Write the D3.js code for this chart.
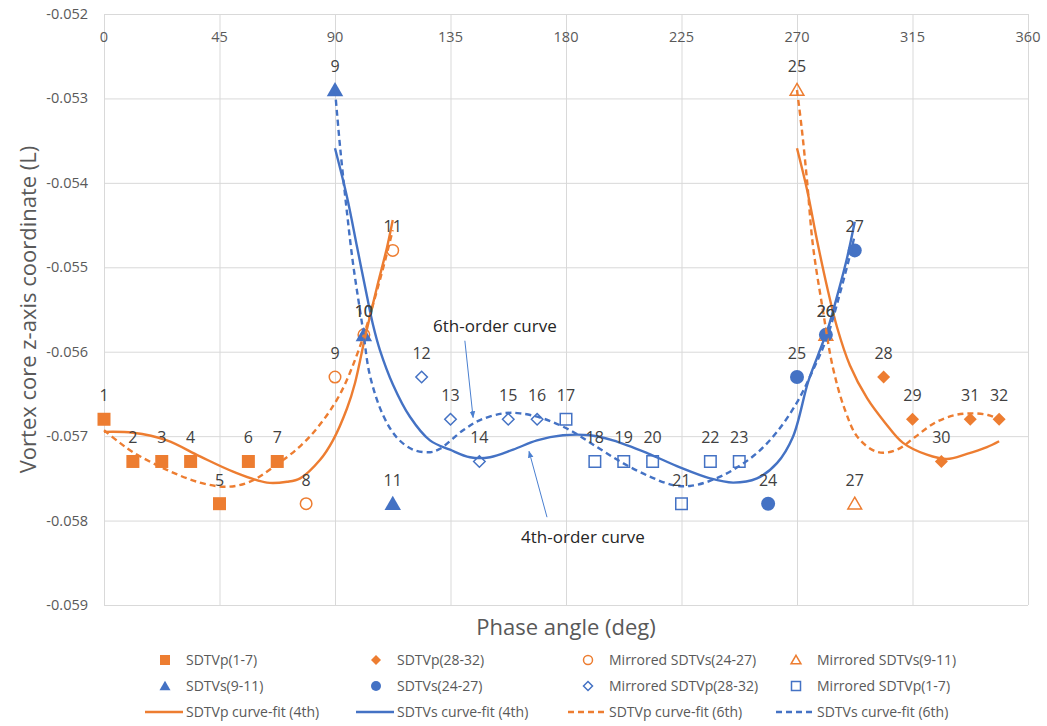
<!DOCTYPE html>
<html>
<head>
<meta charset="utf-8">
<script src="https://cdn.jsdelivr.net/npm/d3@7"></script>
<style>
  body { margin: 0; background: #fff; }
  text { font-family: "Open Sans", "Noto Sans", sans-serif; }
</style>
</head>
<body>
<svg id="chart" width="1047" height="726"></svg>
<script>
// ---- data ----
const xTicks = [0, 45, 90, 135, 180, 225, 270, 315, 360];
const yTicks = [-0.052, -0.053, -0.054, -0.055, -0.056, -0.057, -0.058, -0.059];

// marker series
const sdtvp17X = [0, 11.25, 22.5, 33.75, 45, 56.25, 67.5];
const sdtvp17Y = [-0.0568, -0.0573, -0.0573, -0.0573, -0.0578, -0.0573, -0.0573];
const sdtvp17Lbl = ["1", "2", "3", "4", "5", "6", "7"];

const sdtvp2832X = [303.75, 315, 326.25, 337.5, 348.75];
const sdtvp2832Y = [-0.0563, -0.0568, -0.0573, -0.0568, -0.0568];
const sdtvp2832Lbl = ["28", "29", "30", "31", "32"];

const mirS2427X = [78.75, 90, 101.25, 112.5];
const mirS2427Y = [-0.0578, -0.0563, -0.0558, -0.0548];
const mirS2427Lbl = ["8", "9", "10", "11"];

const mirS911X = [270, 281.25, 292.5];
const mirS911Y = [-0.0529, -0.0558, -0.0578];
const mirS911Lbl = ["25", "26", "27"];

const sdtvs911X = [90, 101.25, 112.5];
const sdtvs911Y = [-0.0529, -0.0558, -0.0578];
const sdtvs911Lbl = ["9", "10", "11"];

const sdtvs2427X = [258.75, 270, 281.25, 292.5];
const sdtvs2427Y = [-0.0578, -0.0563, -0.0558, -0.0548];
const sdtvs2427Lbl = ["24", "25", "26", "27"];

const mirP2832X = [123.75, 135, 146.25, 157.5, 168.75];
const mirP2832Y = [-0.0563, -0.0568, -0.0573, -0.0568, -0.0568];
const mirP2832Lbl = ["12", "13", "14", "15", "16"];

const mirP17X = [180, 191.25, 202.5, 213.75, 225, 236.25, 247.5];
const mirP17Y = [-0.0568, -0.0573, -0.0573, -0.0573, -0.0578, -0.0573, -0.0573];
const mirP17Lbl = ["17", "18", "19", "20", "21", "22", "23"];

// curve-fit lines (traced)
const pFit4aX = [0, 11.3, 24.5, 37.4, 50.3, 63.5, 71.3, 76.4, 84.2, 89.2, 94.7, 97.8, 101.7, 106.4, 110.3, 112.5];
const pFit4aY = [-0.05695, -0.05696, -0.05705, -0.05724, -0.05742, -0.05755, -0.05754, -0.05750, -0.05728, -0.05705, -0.05667, -0.05637, -0.05583, -0.05523, -0.05476, -0.05444];
const pFit4bX = [270, 273.9, 277.8, 281.7, 285.6, 290.6, 297.3, 304.3, 311.3, 320.6, 328.4, 336.2, 344.0, 348.75];
const pFit4bY = [-0.05359, -0.05408, -0.05468, -0.05523, -0.05571, -0.05616, -0.05655, -0.05684, -0.05708, -0.05722, -0.05727, -0.05721, -0.05713, -0.05706];

const pFit6aX = [0, 6.2, 11.3, 24.5, 37.4, 47.9, 56.9, 65.8, 76.4, 84.2, 92.0, 99.7, 107.5, 112.5];
const pFit6aY = [-0.05693, -0.05708, -0.05719, -0.05740, -0.05755, -0.05760, -0.05754, -0.05737, -0.05712, -0.05686, -0.05650, -0.05594, -0.05515, -0.05456];
const pFit6bX = [270, 271.9, 273.9, 276.2, 280.1, 284.0, 288.7, 293.8, 301.6, 309.0, 316.0, 323.8, 331.6, 338.2, 344.4, 348.75];
const pFit6bY = [-0.05290, -0.05337, -0.05397, -0.05474, -0.05551, -0.05619, -0.05669, -0.05702, -0.05719, -0.05716, -0.05701, -0.05684, -0.05675, -0.05673, -0.05675, -0.05680];

const sFit4X = [90, 94.7, 98.6, 102.5, 104.8, 107.5, 112.6, 119.2, 127.0, 134.8, 142.6, 150.4, 159.4, 168.7, 178.8, 189.4, 198.3, 211.6, 224.4, 236.1, 245.1, 254.4, 262.2, 268.4, 274.3, 278.2, 282.1, 286.0, 289.5, 292.5];
const sFit4Y = [-0.05359, -0.05417, -0.05476, -0.05535, -0.05568, -0.05598, -0.05639, -0.05677, -0.05705, -0.05716, -0.05725, -0.05725, -0.05716, -0.05705, -0.05699, -0.05699, -0.05705, -0.05720, -0.05737, -0.05750, -0.05755, -0.05750, -0.05732, -0.05701, -0.05636, -0.05604, -0.05572, -0.05530, -0.05489, -0.05446];

const sFit6X = [90, 92.0, 94.7, 97.0, 100.9, 103.6, 108.7, 114.2, 120.4, 127.0, 130.9, 139.9, 146.5, 155.5, 162.1, 171.0, 181.6, 192.1, 202.2, 212.7, 221.7, 228.3, 236.1, 245.1, 254.4, 262.2, 270.0, 276.2, 281.7, 286.8, 290.7, 292.5];
const sFit6Y = [-0.05290, -0.05358, -0.05436, -0.05495, -0.05574, -0.05628, -0.05675, -0.05702, -0.05716, -0.05719, -0.05715, -0.05693, -0.05681, -0.05673, -0.05673, -0.05679, -0.05693, -0.05713, -0.05732, -0.05748, -0.05758, -0.05759, -0.05753, -0.05740, -0.05720, -0.05695, -0.05660, -0.05622, -0.05583, -0.05530, -0.05485, -0.05462];

// ---- setup ----
const ORANGE = "#ED7D31", BLUE = "#4472C4";
const svg = d3.select("#chart");
const plot = { left: 104, right: 1028, top: 14, bottom: 605 };

const x = d3.scaleLinear().domain([0, 360]).range([plot.left, plot.right]);
const y = d3.scaleLinear().domain([-0.059, -0.052]).range([plot.bottom, plot.top]);

// gridlines
svg.append("g")
  .attr("transform", `translate(0,${plot.top})`)
  .call(d3.axisBottom(x).tickValues(xTicks).tickSize(plot.bottom - plot.top).tickFormat(""))
  .call(g => g.select(".domain").remove())
  .call(g => g.selectAll("line").attr("stroke", "#d9d9d9"));
svg.append("g")
  .attr("transform", `translate(${plot.left},0)`)
  .call(d3.axisRight(y).tickValues(yTicks).tickSize(plot.right - plot.left).tickFormat(""))
  .call(g => g.select(".domain").remove())
  .call(g => g.selectAll("line").attr("stroke", "#d9d9d9"));

// tick labels
svg.append("g")
  .selectAll("text").data(xTicks).join("text")
  .attr("x", d => x(d)).attr("y", 42)
  .attr("text-anchor", "middle")
  .attr("font-size", 14.5).attr("fill", "#595959")
  .text(d => d);
svg.append("g")
  .selectAll("text").data(yTicks).join("text")
  .attr("x", 88).attr("y", d => y(d) + 5)
  .attr("text-anchor", "end")
  .attr("font-size", 14.5).attr("fill", "#595959")
  .text(d => d.toFixed(3));

// axis titles
svg.append("text")
  .attr("transform", `translate(36,${(plot.top + plot.bottom) / 2}) rotate(-90)`)
  .attr("text-anchor", "middle")
  .attr("font-size", 22).attr("fill", "#595959")
  .text("Vortex core z-axis coordinate (L)");
svg.append("text")
  .attr("x", (plot.left + plot.right) / 2).attr("y", 635)
  .attr("text-anchor", "middle")
  .attr("font-size", 22).attr("fill", "#595959")
  .text("Phase angle (deg)");

// marker shapes
function markerPath(type, s) {
  const h = s / 2;
  if (type === "square") return `M${-h},${-h}H${h}V${h}H${-h}Z`;
  if (type === "diamond") return `M0,${-h}L${h},0L0,${h}L${-h},0Z`;
  if (type === "triangle") return `M0,${-h * 1.05}L${h * 1.1},${h * 0.85}L${-h * 1.1},${h * 0.85}Z`;
  return d3.arc()({ innerRadius: 0, outerRadius: h, startAngle: 0, endAngle: 2 * Math.PI });
}

const series = [
  { name: "SDTVp(1-7)", xs: sdtvp17X, ys: sdtvp17Y, lbl: sdtvp17Lbl, shape: "square", color: ORANGE, fill: true, size: 13 },
  { name: "SDTVp(28-32)", xs: sdtvp2832X, ys: sdtvp2832Y, lbl: sdtvp2832Lbl, shape: "diamond", color: ORANGE, fill: true, size: 13 },
  { name: "Mirrored SDTVs(24-27)", xs: mirS2427X, ys: mirS2427Y, lbl: mirS2427Lbl, shape: "circle", color: ORANGE, fill: false, size: 13 },
  { name: "Mirrored SDTVs(9-11)", xs: mirS911X, ys: mirS911Y, lbl: mirS911Lbl, shape: "triangle", color: ORANGE, fill: false, size: 14 },
  { name: "SDTVs(9-11)", xs: sdtvs911X, ys: sdtvs911Y, lbl: sdtvs911Lbl, shape: "triangle", color: BLUE, fill: true, size: 15 },
  { name: "SDTVs(24-27)", xs: sdtvs2427X, ys: sdtvs2427Y, lbl: sdtvs2427Lbl, shape: "circle", color: BLUE, fill: true, size: 14 },
  { name: "Mirrored SDTVp(28-32)", xs: mirP2832X, ys: mirP2832Y, lbl: mirP2832Lbl, shape: "diamond", color: BLUE, fill: false, size: 13 },
  { name: "Mirrored SDTVp(1-7)", xs: mirP17X, ys: mirP17Y, lbl: mirP17Lbl, shape: "square", color: BLUE, fill: false, size: 13 }
];

const fits = [
  { name: "SDTVp curve-fit (4th)", parts: [[pFit4aX, pFit4aY], [pFit4bX, pFit4bY]], color: ORANGE, dash: null },
  { name: "SDTVs curve-fit (4th)", parts: [[sFit4X, sFit4Y]], color: BLUE, dash: null },
  { name: "SDTVp curve-fit (6th)", parts: [[pFit6aX, pFit6aY], [pFit6bX, pFit6bY]], color: ORANGE, dash: "6,4" },
  { name: "SDTVs curve-fit (6th)", parts: [[sFit6X, sFit6Y]], color: BLUE, dash: "6,4" }
];

// markers
series.forEach(s => {
  const pts = s.xs.map((v, i) => [v, s.ys[i]]);
  svg.append("g").selectAll("path").data(pts).join("path")
    .attr("transform", d => `translate(${x(d[0])},${y(d[1])})`)
    .attr("d", markerPath(s.shape, s.fill ? s.size : s.size - 1.5))
    .attr("fill", s.fill ? s.color : "none")
    .attr("stroke", s.color)
    .attr("stroke-width", s.fill ? 0 : 1.5);
});

// curve fits
const line = d3.line().x(d => x(d[0])).y(d => y(d[1])).curve(d3.curveCatmullRom.alpha(0.5));
fits.forEach(f => {
  f.parts.forEach(([xs, ys]) => {
    svg.append("path")
      .datum(xs.map((v, i) => [v, ys[i]]))
      .attr("fill", "none")
      .attr("stroke", f.color)
      .attr("stroke-width", 2.4)
      .attr("stroke-dasharray", f.dash)
      .attr("d", line);
  });
});

// data labels
series.forEach(s => {
  svg.append("g").selectAll("text").data(s.xs).join("text")
    .attr("x", d => x(d))
    .attr("y", (d, i) => y(s.ys[i]) - 18)
    .attr("text-anchor", "middle")
    .attr("font-size", 16).attr("fill", "#404040")
    .text((d, i) => s.lbl[i]);
});

// annotations
svg.append("defs").append("marker")
  .attr("id", "arrow").attr("viewBox", "0 0 10 10")
  .attr("refX", 9).attr("refY", 5)
  .attr("markerWidth", 7).attr("markerHeight", 7)
  .attr("orient", "auto")
  .append("path").attr("d", "M0,1L10,5L0,9Z").attr("fill", "#4a7fd0");

const notes = [
  { text: "6th-order curve", tx: 152.3, ty: -0.05570, from: [140.6, -0.05587], to: [143.8, -0.05678] },
  { text: "4th-order curve", tx: 186.6, ty: -0.05819, from: [172.6, -0.05796], to: [165.6, -0.05718] }
];
notes.forEach(n => {
  svg.append("line")
    .attr("x1", x(n.from[0])).attr("y1", y(n.from[1]))
    .attr("x2", x(n.to[0])).attr("y2", y(n.to[1]))
    .attr("stroke", "#4a7fd0").attr("stroke-width", 1)
    .attr("marker-end", "url(#arrow)");
  svg.append("text")
    .attr("x", x(n.tx)).attr("y", y(n.ty) + 6)
    .attr("text-anchor", "middle")
    .attr("font-size", 17).attr("fill", "#262626")
    .text(n.text);
});

// legend
const colX = [165, 376, 588, 796];
const rowY = [660, 686, 712];
const legend = svg.append("g");
series.forEach((s, i) => {
  const cx = colX[i % 4], cy = rowY[Math.floor(i / 4)];
  legend.append("path")
    .attr("transform", `translate(${cx},${cy})`)
    .attr("d", markerPath(s.shape, s.fill ? 10 : 9))
    .attr("fill", s.fill ? s.color : "none")
    .attr("stroke", s.color)
    .attr("stroke-width", s.fill ? 0 : 1.5);
  legend.append("text")
    .attr("x", cx + 21).attr("y", cy + 5)
    .attr("font-size", 14).attr("fill", "#595959")
    .text(s.name);
});
fits.forEach((f, i) => {
  const cx = colX[i], cy = rowY[2];
  legend.append("line")
    .attr("x1", cx - 20).attr("x2", cx + 18)
    .attr("y1", cy).attr("y2", cy)
    .attr("stroke", f.color).attr("stroke-width", 2.4)
    .attr("stroke-dasharray", f.dash);
  legend.append("text")
    .attr("x", cx + 21).attr("y", cy + 5)
    .attr("font-size", 14).attr("fill", "#595959")
    .text(f.name);
});
</script>
</body>
</html>
